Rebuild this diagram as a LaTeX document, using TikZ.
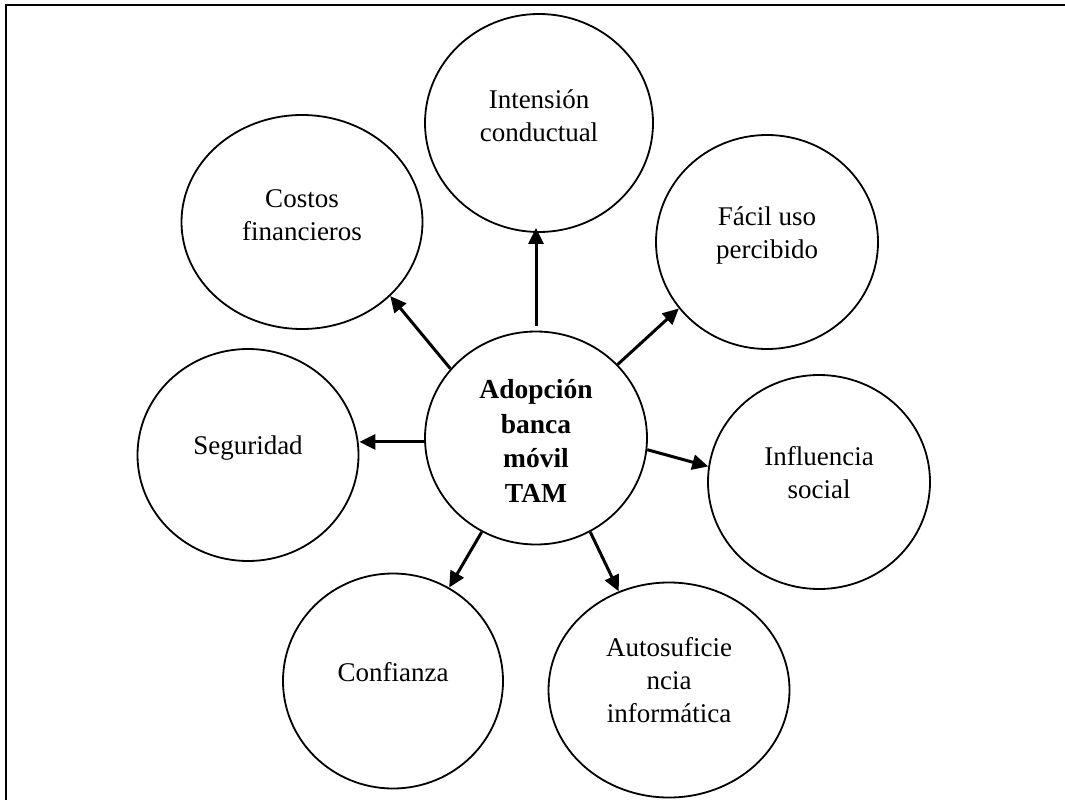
\documentclass[tikz,border=0pt]{standalone}
\usepackage{fontspec}
\setmainfont{Liberation Serif}
\usetikzlibrary{arrows.meta,shapes.geometric}
\begin{document}
\begin{tikzpicture}[x=1pt,y=-1pt,
  bubble/.style={ellipse,draw,line width=1.8pt,inner sep=0pt},
  lbl/.style={align=center,font=\fontsize{27}{33}\selectfont,inner sep=0pt},
  blbl/.style={align=center,font=\fontsize{27.5}{34.5}\selectfont\bfseries,inner sep=0pt},
  arr/.style={line width=3pt,-{Triangle[length=16pt,width=15pt]}},
  frame/.style={line width=2pt}]
\useasboundingbox (0,0) rectangle (1065,800);
\coordinate (f1) at (6,800);
\coordinate (f2) at (6,5);
\coordinate (f3) at (1065,5);
\draw[frame] (f1) -- (f2) -- (f3);

\node[bubble,minimum width=222pt,minimum height=213pt] (c) at (536,438) {};
\node[bubble,minimum width=228pt,minimum height=218pt] (int) at (539,123) {};
\node[bubble,minimum width=241pt,minimum height=214pt] (cost) at (302,222) {};
\node[bubble,minimum width=222pt,minimum height=214pt] (fac) at (767,242) {};
\node[bubble,minimum width=221pt,minimum height=212pt] (seg) at (248,455) {};
\node[bubble,minimum width=222pt,minimum height=214pt] (inf) at (819,482) {};
\node[bubble,minimum width=220pt,minimum height=215pt] (conf) at (393,681) {};
\node[bubble,minimum width=241pt,minimum height=215pt] (auto) at (669,690) {};

\node[blbl] (tc) at ([yshift=-3pt]c.center) {Adopción\\banca\\móvil\\TAM};
\node[lbl] (tint) at ([yshift=7pt]int.center) {Intensión\\conductual};
\node[lbl] (tcost) at ([yshift=7pt]cost.center) {Costos\\financieros};
\node[lbl] (tfac) at ([yshift=7pt]fac.center) {Fácil uso\\percibido};
\node[lbl] (tseg) at ([yshift=7pt]seg.center) {Seguridad};
\node[lbl] (tinf) at ([yshift=9pt]inf.center) {Influencia\\social};
\node[lbl] (tconf) at ([yshift=9pt]conf.center) {Confianza};
\node[lbl] (tauto) at ([yshift=10pt]auto.center) {Autosuficie\\ncia\\informática};

\draw[arr] ([yshift=5pt]c.north) -- ([yshift=5pt]c.north |- int.south);
\draw[arr] (c.141) -- (cost.320);
\draw[arr] (c.42) -- (fac.217);
\draw[arr] (c.182) -- (c.182 -| seg.east);
\draw[arr] (c.-6) -- (inf.172);
\draw[arr] (c.240) -- (conf.59);
\draw[arr] (c.300) -- (auto.117);
\end{tikzpicture}
\end{document}
